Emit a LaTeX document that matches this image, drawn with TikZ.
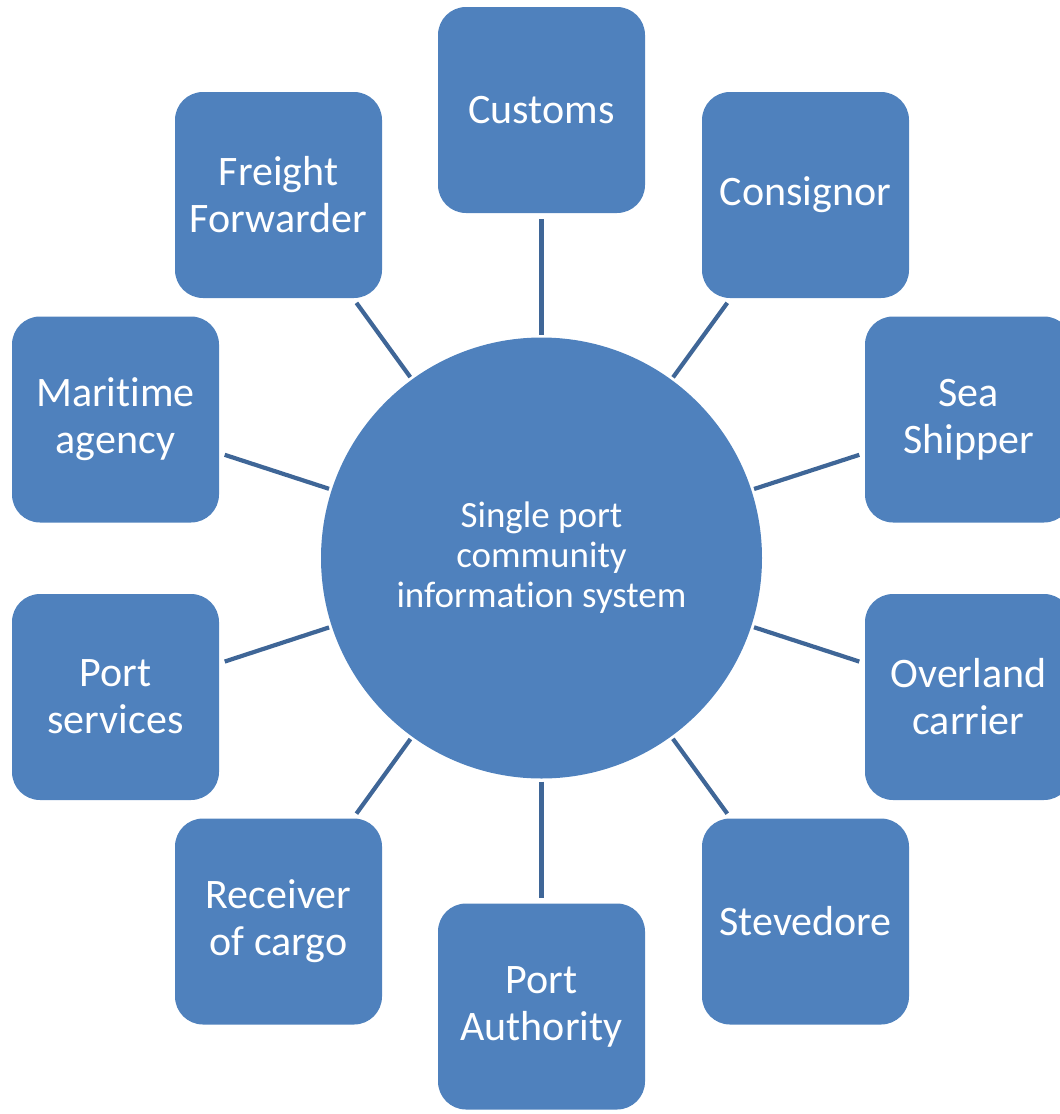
\documentclass[tikz,border=0pt]{standalone}
\usepackage{fontspec}
\setmainfont{Carlito}[RawFeature={-liga}]
\definecolor{boxblue}{HTML}{4F81BD}
\definecolor{linkblue}{HTML}{3F6697}
\begin{document}
\begin{tikzpicture}[x=1pt,y=-1pt,
  party/.style={rectangle, rounded corners=28pt, fill=boxblue, draw=none,
    minimum width=207pt, minimum height=206pt, inner sep=0pt, outer sep=0pt,
    text=white, align=center, font=\fontsize{42}{47}\selectfont},
  hub/.style={circle, fill=boxblue, draw=none, minimum size=441pt, inner sep=0pt,
    outer sep=0pt, text=white, align=center, font=\fontsize{37}{40}\selectfont},
  link/.style={draw=linkblue, line width=4.2pt, shorten <=3pt, shorten >=6pt}]
\useasboundingbox (0,0) rectangle (1060,1114);
\begin{scope}
\clip (0,0) rectangle (1060,1114);
\node[hub] (c) at (541.5,558) {Single port\\community\\information system};
\node[party] (customs) at (541.5,110) {Customs};
\node[party] (consignor) at (805.5,195) {Consignor};
\node[party] (sea) at (968.5,419.5) {Sea\\Shipper};
\node[party] (overland) at (968.5,697) {Overland\\carrier};
\node[party] (steve) at (805.5,921.5) {Stevedore};
\node[party] (pa) at (541.5,1006.5) {Port\\Authority};
\node[party] (recv) at (278.5,921.5) {Receiver\\of cargo};
\node[party] (serv) at (115.5,697) {Port\\services};
\node[party] (mar) at (115.5,419.5) {Maritime\\agency};
\node[party] (ff) at (278.5,195) {Freight\\Forwarder};
\foreach \b in {customs,consignor,sea,overland,steve,pa,recv,serv,mar,ff}
  \draw[link] (c) -- (\b);
\end{scope}
\end{tikzpicture}
\end{document}
